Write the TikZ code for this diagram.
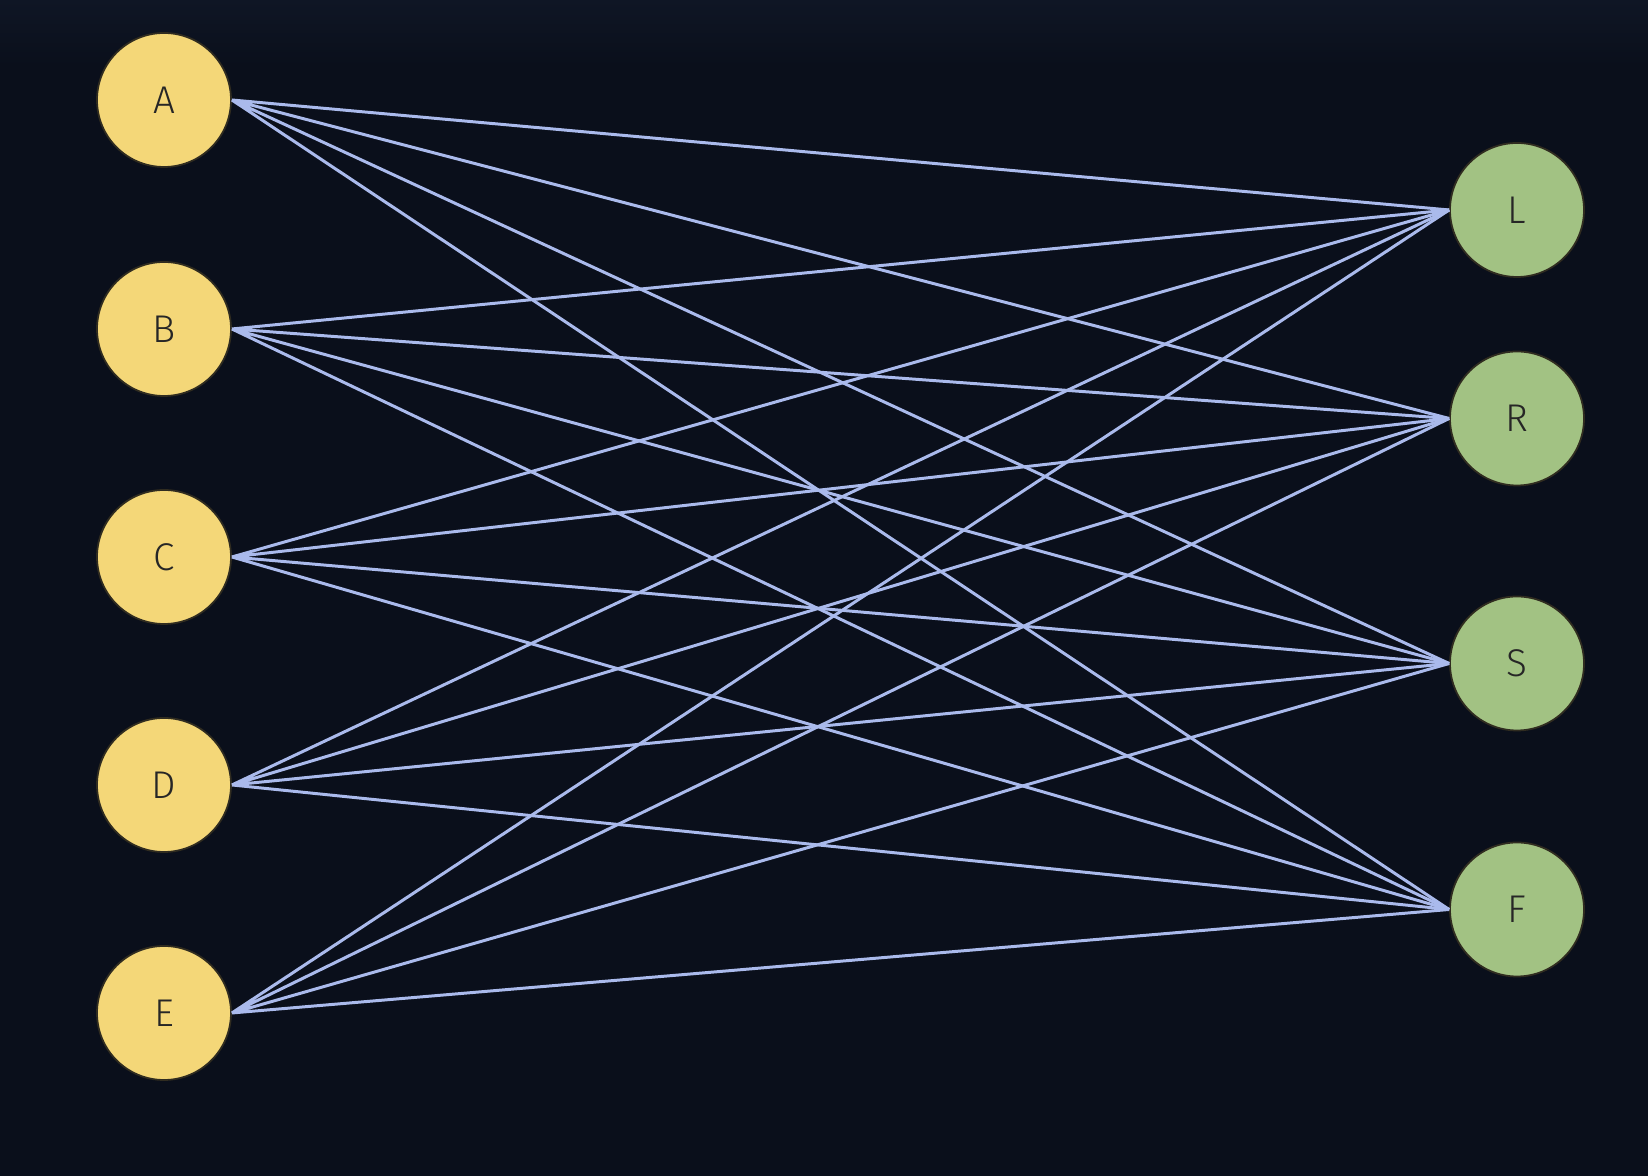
\documentclass[tikz,border=0pt]{standalone}
\usepackage{fontspec}
\setmainfont{Fira Sans}[UprightFont=* Light]
\definecolor{bgnavy}{RGB}{10,15,27}
\definecolor{bgtop}{RGB}{15,22,37}
\definecolor{wireblue}{RGB}{170,186,236}
\definecolor{leftyellow}{RGB}{244,215,120}
\definecolor{rightgreen}{RGB}{162,194,131}
\definecolor{ringdark}{RGB}{48,44,32}
\tikzset{
  vert/.style={circle, draw=ringdark, line width=0.5pt, minimum size=1.34cm,
    inner sep=0pt, text=black!85, font=\fontsize{11}{13}\selectfont},
  leftvert/.style={vert, fill=leftyellow},
  rightvert/.style={vert, fill=rightgreen},
  wire/.style={wireblue, line width=0.85pt}
}
\begin{document}
\begin{tikzpicture}
	% Background
	\fill[bgnavy] (0,0) rectangle (16.48,11.76);
	\shade[top color=bgtop, bottom color=bgnavy] (0,11.1) rectangle (16.48,11.76);
	\useasboundingbox (0,0) rectangle (16.48,11.76);

	% Left column
	\node[leftvert] (A) at (1.64,10.76) {A};
	\node[leftvert] (B) at (1.64, 8.47) {B};
	\node[leftvert] (C) at (1.64, 6.19) {C};
	\node[leftvert] (D) at (1.64, 3.91) {D};
	\node[leftvert] (E) at (1.64, 1.63) {E};

	% Right column
	\node[rightvert] (L) at (15.17,9.66) {L};
	\node[rightvert] (R) at (15.17,7.575) {R};
	\node[rightvert] (S) at (15.17,5.125) {S};
	\node[rightvert] (F) at (15.17,2.665) {F};

	% Draw every left node to every right node
	\draw[wire] (A.east) -- (L.west) (A.east) -- (R.west) (A.east) -- (S.west) (A.east) -- (F.west);
	\draw[wire] (B.east) -- (L.west) (B.east) -- (R.west) (B.east) -- (S.west) (B.east) -- (F.west);
	\draw[wire] (C.east) -- (L.west) (C.east) -- (R.west) (C.east) -- (S.west) (C.east) -- (F.west);
	\draw[wire] (D.east) -- (L.west) (D.east) -- (R.west) (D.east) -- (S.west) (D.east) -- (F.west);
	\draw[wire] (E.east) -- (L.west) (E.east) -- (R.west) (E.east) -- (S.west) (E.east) -- (F.west);

\end{tikzpicture}
\end{document}
